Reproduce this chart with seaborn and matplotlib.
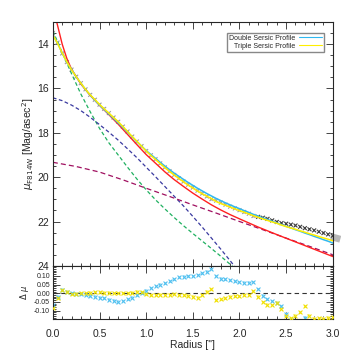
import numpy as np
import pandas as pd
import matplotlib
matplotlib.use('Agg')
import matplotlib.pyplot as plt
import seaborn as sns
from matplotlib.ticker import MultipleLocator, FormatStrFormatter
from matplotlib.lines import Line2D

# ---------------------------------------------------------------
# Datos
# ---------------------------------------------------------------
radius = [0.00, 0.05, 0.10, 0.15, 0.20, 0.25, 0.30, 0.35, 0.40, 0.45,
          0.50, 0.55, 0.60, 0.65, 0.70, 0.75, 0.80, 0.85, 0.90, 0.95,
          1.00, 1.05, 1.10, 1.15, 1.20, 1.25, 1.30, 1.35, 1.40, 1.45,
          1.50, 1.55, 1.60, 1.65, 1.70, 1.75, 1.80, 1.85, 1.90, 1.95,
          2.00, 2.05, 2.10, 2.15, 2.20, 2.25, 2.30, 2.35, 2.40, 2.45,
          2.50, 2.55, 2.60, 2.65, 2.70, 2.75, 2.80, 2.85, 2.90, 2.95, 3.00]

mu_data = [13.50, 13.93, 14.42, 14.81, 15.15, 15.47, 15.76, 16.04, 16.29, 16.51,
           16.73, 16.92, 17.11, 17.31, 17.50, 17.72, 17.94, 18.17, 18.39, 18.60,
           18.82, 19.01, 19.19, 19.38, 19.56, 19.73, 19.90, 20.05, 20.20, 20.34,
           20.47, 20.61, 20.74, 20.87, 20.99, 21.06, 21.15, 21.24, 21.33, 21.41,
           21.49, 21.57, 21.65, 21.75, 21.79, 21.83, 21.88, 21.95, 22.02, 22.07,
           22.10, 22.14, 22.18, 22.24, 22.30, 22.35, 22.40, 22.46, 22.52, 22.58, 22.64]

mu_double = [13.57, 13.95, 14.40, 14.80, 15.15, 15.47, 15.77, 16.05, 16.30, 16.53,
             16.75, 16.95, 17.15, 17.35, 17.55, 17.76, 17.97, 18.19, 18.40, 18.60,
             18.80, 18.98, 19.15, 19.33, 19.50, 19.66, 19.82, 19.96, 20.10, 20.24,
             20.37, 20.50, 20.62, 20.74, 20.85, 20.96, 21.06, 21.16, 21.25, 21.34,
             21.42, 21.51, 21.59, 21.68, 21.76, 21.84, 21.91, 21.99, 22.07, 22.14,
             22.22, 22.29, 22.37, 22.44, 22.52, 22.59, 22.67, 22.74, 22.82, 22.89, 22.97]

mu_triple = [13.59, 13.96, 14.40, 14.80, 15.16, 15.47, 15.76, 16.04, 16.29, 16.50,
             16.72, 16.92, 17.11, 17.31, 17.50, 17.72, 17.94, 18.17, 18.38, 18.60,
             18.82, 19.02, 19.20, 19.39, 19.57, 19.74, 19.90, 20.06, 20.21, 20.36,
             20.49, 20.63, 20.75, 20.86, 20.97, 21.10, 21.19, 21.27, 21.35, 21.43,
             21.51, 21.58, 21.66, 21.74, 21.81, 21.88, 21.95, 22.02, 22.08, 22.16,
             22.23, 22.29, 22.35, 22.42, 22.48, 22.55, 22.61, 22.68, 22.74, 22.80, 22.87]

res_double = [-0.065, -0.020, 0.020, 0.010, 0.000, -0.002, -0.006, -0.010, -0.015, -0.020,
              -0.025, -0.030, -0.038, -0.042, -0.048, -0.045, -0.035, -0.025, -0.012, 0.000,
              0.015, 0.030, 0.042, 0.050, 0.058, 0.068, 0.080, 0.092, 0.095, 0.098,
              0.100, 0.105, 0.115, 0.125, 0.140, 0.100, 0.085, 0.080, 0.075, 0.070,
              0.065, 0.062, 0.060, 0.065, 0.025, -0.015, -0.035, -0.045, -0.055, -0.075,
              -0.120, -0.155, -0.190, -0.200, -0.140, -0.240, -0.270, -0.280, -0.300, -0.310, -0.330]

res_triple = [-0.085, -0.028, 0.018, 0.010, -0.005, -0.003, 0.000, 0.002, 0.004, 0.005,
              0.006, 0.004, 0.003, 0.002, 0.001, 0.000, -0.001, 0.003, 0.010, 0.005,
              -0.005, -0.012, -0.010, -0.008, -0.010, -0.008, -0.004, -0.010, -0.012, -0.015,
              -0.020, -0.025, -0.010, 0.010, 0.022, -0.040, -0.035, -0.028, -0.020, -0.018,
              -0.018, -0.012, -0.008, 0.012, -0.020, -0.050, -0.065, -0.068, -0.055, -0.090,
              -0.130, -0.145, -0.130, -0.110, -0.075, -0.130, -0.146, -0.144, -0.146, -0.140, -0.138]

# Modelo de un solo Sersic (rojo)
red_r = [0.00, 0.05, 0.10, 0.15, 0.20, 0.30, 0.40, 0.50, 0.60, 0.70, 0.80, 0.90,
         1.00, 1.10, 1.20, 1.30, 1.40, 1.50, 1.60, 1.70, 1.80, 1.90, 2.00,
         2.20, 2.40, 2.60, 2.80, 3.00]
red_mu = [12.30, 13.15, 14.00, 14.65, 15.13, 15.80, 16.31, 16.76, 17.18, 17.61, 18.07, 18.53,
          18.98, 19.37, 19.76, 20.11, 20.42, 20.72, 20.99, 21.25, 21.48, 21.69, 21.88,
          22.25, 22.59, 22.92, 23.25, 23.58]

# Componentes (lineas discontinuas)
comp_r = [0.0, 0.1, 0.2, 0.3, 0.4, 0.5, 0.6, 0.7, 0.8, 0.9, 1.0,
          1.1, 1.2, 1.3, 1.4, 1.5, 1.6, 1.7, 1.8, 1.9, 2.0]
green_mu = [13.40, 14.38, 15.33, 16.25, 17.05, 17.80, 18.45, 19.00, 19.55, 20.08, 20.57,
            21.02, 21.43, 21.82, 22.19, 22.54, 22.88, 23.22, 23.57, 23.93, 24.30]
blue_mu = [16.42, 16.55, 16.75, 17.00, 17.30, 17.63, 17.97, 18.33, 18.72, 19.12, 19.55,
           19.98, 20.42, 20.86, 21.30, 21.77, 22.25, 22.75, 23.25, 23.77, 24.30]

disk_r = [0.00, 0.25, 0.50, 0.75, 1.00, 1.25, 1.50, 1.75, 2.00, 2.25, 2.50, 2.75, 3.00]
disk_mu = [19.33, 19.52, 19.77, 20.12, 20.50, 20.87, 21.25, 21.62, 22.00, 22.37, 22.75, 23.12, 23.50]

# Puntos mas alla del borde (banda gris)
tail_r = [2.98, 3.08]
tail_mu = [22.68, 22.80]

# ---------------------------------------------------------------
# Figura
# ---------------------------------------------------------------
sns.set_style('ticks')
plt.rcParams['font.family'] = ['Liberation Sans', 'DejaVu Sans']
plt.rcParams['axes.unicode_minus'] = False

df = pd.DataFrame({'r': radius, 'mu': mu_data, 'double': mu_double, 'triple': mu_triple,
                   'res_d': res_double, 'res_t': res_triple})
df['zona'] = np.where(df['r'] >= 2.2, 'out', 'in')

fig = plt.figure(figsize=(3.41, 3.54), dpi=100)
ax = fig.add_axes([0.155, 0.249, 0.821, 0.689])
axr = fig.add_axes([0.155, 0.099, 0.821, 0.150])

# Datos observados
ax.errorbar(df['r'], df['mu'], yerr=0.07, fmt='none', ecolor='#cccccc', elinewidth=1.2, zorder=1)
sns.scatterplot(data=df, x='r', y='mu', hue='zona', palette={'in': '#a0a0a0', 'out': '#404040'},
                marker='x', s=8, linewidth=0.8, legend=False, ax=ax, zorder=2)
ax.plot(tail_r, tail_mu, color='#b8b8b8', lw=5, solid_capstyle='butt', clip_on=False, zorder=1)

# Componentes
dash = (3, 2)
sns.lineplot(x=comp_r, y=green_mu, color='#20b060', lw=0.9, ax=ax).lines[-1].set_dashes(dash)
sns.lineplot(x=comp_r, y=blue_mu, color='#3a3aa0', lw=0.9, ax=ax).lines[-1].set_dashes(dash)
sns.lineplot(x=disk_r, y=disk_mu, color='#a01060', lw=0.9, ax=ax).lines[-1].set_dashes((4, 2.5))

sns.lineplot(x=red_r, y=red_mu, color='#ff2020', lw=1.0, ax=ax)
sns.lineplot(data=df, x='r', y='double', color='#30b8f0', lw=1.1, ax=ax)
sns.lineplot(data=df, x='r', y='triple', color='#ffee00', lw=1.1, ax=ax)

ax.set_xlim(0, 3.0)
ax.set_ylim(24, 13)
ax.xaxis.set_major_locator(MultipleLocator(0.5))
ax.xaxis.set_minor_locator(MultipleLocator(0.1))
ax.yaxis.set_minor_locator(MultipleLocator(0.5))
ax.set_yticks([14, 16, 18, 20, 22, 24])
ax.tick_params(which='both', direction='in', top=True, right=True, labelbottom=False,
               labelsize=7.5, width=0.6, pad=3)
ax.tick_params(which='major', length=5)
ax.tick_params(which='minor', length=2.5)
ax.set_xlabel('')
ax.set_ylabel(r'$\mu_{\rm F814W}$ [Mag/asec$^2$]', fontsize=7.5, labelpad=1)

handles = [Line2D([], [], color='#30b8f0', lw=0.8), Line2D([], [], color='#ffee00', lw=0.8)]
ax.legend(handles, ['Double Sersic Profile', 'Triple Sersic Profile'], loc='upper right',
          bbox_to_anchor=(0.98, 0.97), fontsize=5, markerfirst=False, fancybox=False,
          edgecolor='#888888', framealpha=1, handlelength=3.2, labelspacing=0.15,
          borderpad=0.3, handletextpad=0.6)

# Residuos
axr.axhline(0, color='#333333', lw=0.8, dashes=(4, 3))
axr.errorbar(df['r'], df['res_d'], yerr=0.008, fmt='none', ecolor='#a8e0f8', elinewidth=1.2, zorder=1)
axr.errorbar(df['r'], df['res_t'], yerr=0.008, fmt='none', ecolor='#fff27a', elinewidth=1.2, zorder=1)
sns.scatterplot(data=df, x='r', y='res_d', color='#50c0f0', marker='x', s=8, linewidth=0.8,
                ax=axr, zorder=2)
sns.scatterplot(data=df, x='r', y='res_t', color='#f0e000', marker='x', s=8, linewidth=0.8,
                ax=axr, zorder=3)
axr.set_xlim(0, 3.0)
axr.set_ylim(-0.148, 0.158)
axr.xaxis.set_major_locator(MultipleLocator(0.5))
axr.xaxis.set_minor_locator(MultipleLocator(0.1))
axr.set_yticks([-0.10, -0.05, 0.00, 0.05, 0.10])
axr.yaxis.set_minor_locator(MultipleLocator(0.01))
axr.yaxis.set_major_formatter(FormatStrFormatter('%.2f'))
axr.tick_params(which='both', direction='in', top=True, right=True, width=0.6)
axr.tick_params(axis='x', labelsize=7.5, pad=7)
axr.tick_params(axis='y', labelsize=5, pad=2)
axr.tick_params(which='major', length=5)
axr.tick_params(which='minor', length=2.5)
axr.set_xlabel('Radius ["]', fontsize=7.5, labelpad=1)
axr.set_ylabel(r'$\Delta\ \mu$', fontsize=6, labelpad=2)

for a in (ax, axr):
    for s in a.spines.values():
        s.set_linewidth(0.8)

fig.savefig('out.png', dpi=100)
